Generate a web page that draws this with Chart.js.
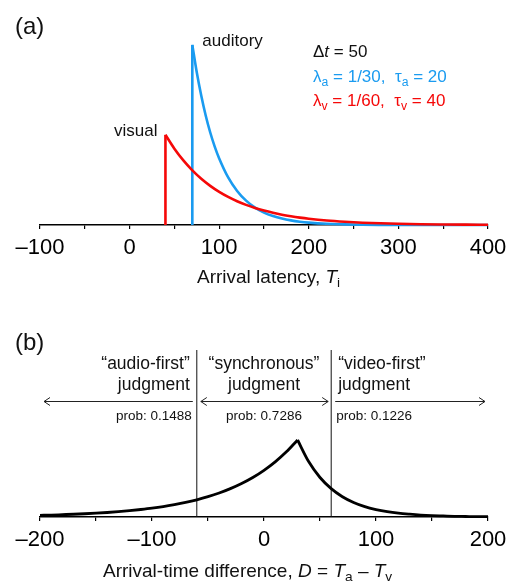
<!DOCTYPE html>
<html><head><meta charset="utf-8">
<script src="https://cdn.jsdelivr.net/npm/chart.js@4.4.0/dist/chart.umd.min.js"></script>
<style>
html,body{margin:0;padding:0;background:#fff;}
body{width:513px;height:582px;position:relative;overflow:hidden;font-family:"Liberation Sans",Arial,Helvetica,sans-serif;color:#111;}
canvas{position:absolute;left:0;}
.t{position:absolute;white-space:pre;line-height:1;font-family:"Liberation Sans",Arial,Helvetica,sans-serif;}
.t sub{font-size:0.72em;vertical-align:-0.3em;line-height:0;}
</style></head><body>
<canvas id="ca" width="513" height="290" style="top:0px"></canvas>
<canvas id="cb" width="513" height="292" style="top:290px"></canvas>
<script>
// ---------- Panel (a): arrival latency densities (values x1000) ----------
const audT = [70,75,80,85,90,95,100,110,120,130,140,150,160,170,180,190,200,220,240,260,280,300,350,400];
const audY = [33.3,28.2,23.9,20.2,17.1,14.5,12.3,8.8,6.3,4.5,3.2,2.3,1.66,1.19,0.85,0.61,0.44,0.22,0.12,0.06,0.03,0.015,0.003,0.0005];
const visT = [40,50,60,70,80,90,100,110,120,130,140,150,160,170,180,190,200,220,240,260,280,300,325,350,375,400];
const visY = [16.67,14.11,11.94,10.11,8.56,7.24,6.13,5.19,4.39,3.72,3.15,2.67,2.26,1.91,1.62,1.37,1.16,0.83,0.60,0.43,0.31,0.22,0.14,0.095,0.063,0.041];
const aTicks = [-100,-50,0,50,100,150,200,250,300,350,400];
const aTickLabels = ['\u2013100','','0','','100','','200','','300','','400'];

// ---------- Panel (b): arrival-time difference density (values x1000) ----------
const diffLeftD = [-200,-190,-180,-170,-160,-150,-140,-130,-120,-110,-100,-90,-80,-70,-60,-50,-40,-30,-20,-10,0,10,20,30];
const diffLeftY = [0.24,0.28,0.34,0.40,0.47,0.55,0.65,0.77,0.91,1.08,1.27,1.50,1.78,2.10,2.48,2.93,3.46,4.09,4.83,5.70,6.74,7.96,9.40,11.11];
const diffRightD = [30,40,50,60,70,80,90,100,110,120,130,140,150,160,170,180,190,200];
const diffRightY = [11.11,7.96,5.70,4.09,2.93,2.10,1.50,1.08,0.77,0.55,0.40,0.28,0.20,0.15,0.10,0.075,0.05,0.04];
const bounds = [-60, 60];
const probs = ['0.1488','0.7286','0.1226'];
const bTicks = [-200,-150,-100,-50,0,50,100,150,200];
const bTickLabels = ['\u2013200','','\u2013100','','0','','100','','200'];

const BLUE = '#1a9bf0', RED = '#f50808', FONT = '"Liberation Sans", Arial, Helvetica, sans-serif';
const pts = (xs, ys) => xs.map((x, i) => ({x, y: ys[i]}));

function xScale(min, max, ticks, labels) {
  return {
    type: 'linear', min, max,
    afterFit(s) { s.height = 35; },
    afterBuildTicks(s) { s.ticks = ticks.map(v => ({value: v})); },
    grid: {display: true, drawOnChartArea: false, drawTicks: true, tickLength: 4, color: '#000', lineWidth: 1.2},
    border: {display: true, color: '#000', width: 1.5},
    ticks: {font: {family: FONT, size: 22}, color: '#000', padding: 6, maxRotation: 0, autoSkip: false,
            callback: (v, i) => labels[i]}
  };
}
function baseOpts(xs, ymax, padTop) {
  return {
    responsive: false, animation: false, devicePixelRatio: 1,
    layout: {padding: {left: 40, right: 25, top: padTop, bottom: 30}},
    plugins: {legend: {display: false}, tooltip: {enabled: false}},
    elements: {point: {radius: 0}},
    scales: {x: xs, y: {display: false, min: 0, max: ymax}}
  };
}

const chartA = new Chart(document.getElementById('ca'), {
  type: 'line',
  data: {datasets: [
    {data: pts(visT, visY), borderColor: RED, borderWidth: 2.6, cubicInterpolationMode: 'monotone', clip: false, fill: false},
    {data: [{x: visT[0], y: 0}, {x: visT[0], y: visY[0]}], borderColor: RED, borderWidth: 2.6, clip: false, tension: 0},
    {data: pts(audT, audY), borderColor: BLUE, borderWidth: 2.6, cubicInterpolationMode: 'monotone', clip: false, fill: false},
    {data: [{x: audT[0], y: 0}, {x: audT[0], y: audY[0]}], borderColor: BLUE, borderWidth: 2.6, clip: false, tension: 0}
  ]},
  options: baseOpts(xScale(-100, 400, aTicks, aTickLabels), 34.2, 40)
});

const arrowPlugin = {
  id: 'arrows',
  afterDatasetsDraw(chart) {
    const ctx = chart.ctx, xs = chart.scales.x, ca = chart.chartArea;
    const y = ca.top + 51;
    const L = xs.getPixelForValue(bounds[0]), R = xs.getPixelForValue(bounds[1]);
    const segs = [[ca.left + 4, L - 4, true, false], [L + 4, R - 3, true, true], [R + 4, ca.right - 3, false, true]];
    ctx.save();
    ctx.strokeStyle = '#222'; ctx.lineWidth = 1;
    for (const [a, b, hl, hr] of segs) {
      ctx.beginPath(); ctx.moveTo(a, y + 0.5); ctx.lineTo(b, y + 0.5); ctx.stroke();
      if (hl) { ctx.beginPath(); ctx.moveTo(a + 6, y - 3.5); ctx.lineTo(a, y + 0.5); ctx.lineTo(a + 6, y + 4.5); ctx.stroke(); }
      if (hr) { ctx.beginPath(); ctx.moveTo(b - 6, y - 3.5); ctx.lineTo(b, y + 0.5); ctx.lineTo(b - 6, y + 4.5); ctx.stroke(); }
    }
    ctx.restore();
  }
};

const YMAXB = 24.1;
const chartB = new Chart(document.getElementById('cb'), {
  type: 'line',
  data: {datasets: [
    {data: pts(diffLeftD, diffLeftY), borderColor: '#000', borderWidth: 2.8, cubicInterpolationMode: 'monotone', clip: false},
    {data: pts(diffRightD, diffRightY), borderColor: '#000', borderWidth: 2.8, cubicInterpolationMode: 'monotone', clip: false},
    {data: [{x: bounds[0], y: 0}, {x: bounds[0], y: YMAXB}], borderColor: '#111', borderWidth: 1, clip: false, tension: 0},
    {data: [{x: bounds[1], y: 0}, {x: bounds[1], y: YMAXB}], borderColor: '#111', borderWidth: 1, clip: false, tension: 0}
  ]},
  options: baseOpts(xScale(-200, 200, bTicks, bTickLabels), YMAXB, 60),
  plugins: [arrowPlugin]
});

// ---------- Text (HTML overlays) ----------
function label(html, x, baseline, size, align, color) {
  const d = document.createElement('div');
  d.className = 't';
  d.innerHTML = html;
  d.style.fontSize = size + 'px';
  d.style.top = (baseline - 0.8465 * size) + 'px';
  if (color) d.style.color = color;
  if (align === 'right') d.style.right = (513 - x) + 'px';
  else if (align === 'center') { d.style.left = x + 'px'; d.style.transform = 'translateX(-50%)'; }
  else d.style.left = x + 'px';
  document.body.appendChild(d);
}
const axA = chartA.scales.x, axB = chartB.scales.x;
label('(a)', 15, 34, 24, 'left');
label('auditory', axA.getPixelForValue(audT[0]) + 10, 46, 17, 'left');
label('visual', axA.getPixelForValue(visT[0]) - 8, 136, 17, 'right');
label('\u0394<i>t</i> = 50', 313, 57, 17, 'left');
label('\u03bb<sub>a</sub> = 1/30,  \u03c4<sub>a</sub> = 20', 313, 82, 17, 'left', BLUE);
label('\u03bb<sub>v</sub> = 1/60,  \u03c4<sub>v</sub> = 40', 313, 106, 17, 'left', RED);
label('Arrival latency, <i>T</i><sub>i</sub>', 197, 283, 19, 'left');

const pL = axB.getPixelForValue(bounds[0]), pR = axB.getPixelForValue(bounds[1]), pC = axB.getPixelForValue(0);
label('(b)', 15, 350, 24, 'left');
label('\u201caudio-first\u201d', pL - 7, 370, 17.5, 'right');
label('judgment', pL - 7, 391, 17.5, 'right');
label('prob: ' + probs[0], pL - 5, 420, 13.5, 'right');
label('\u201csynchronous\u201d', pC, 370, 17.5, 'center');
label('judgment', pC, 391, 17.5, 'center');
label('prob: ' + probs[1], pC, 420, 13.5, 'center');
label('\u201cvideo-first\u201d', pR + 7, 370, 17.5, 'left');
label('judgment', pR + 7, 391, 17.5, 'left');
label('prob: ' + probs[2], pR + 5, 420, 13.5, 'left');
label('Arrival-time difference, <i>D</i> = <i>T</i><sub>a</sub> \u2013 <i>T</i><sub>v</sub>', 103, 577, 19, 'left');
</script>
</body></html>
